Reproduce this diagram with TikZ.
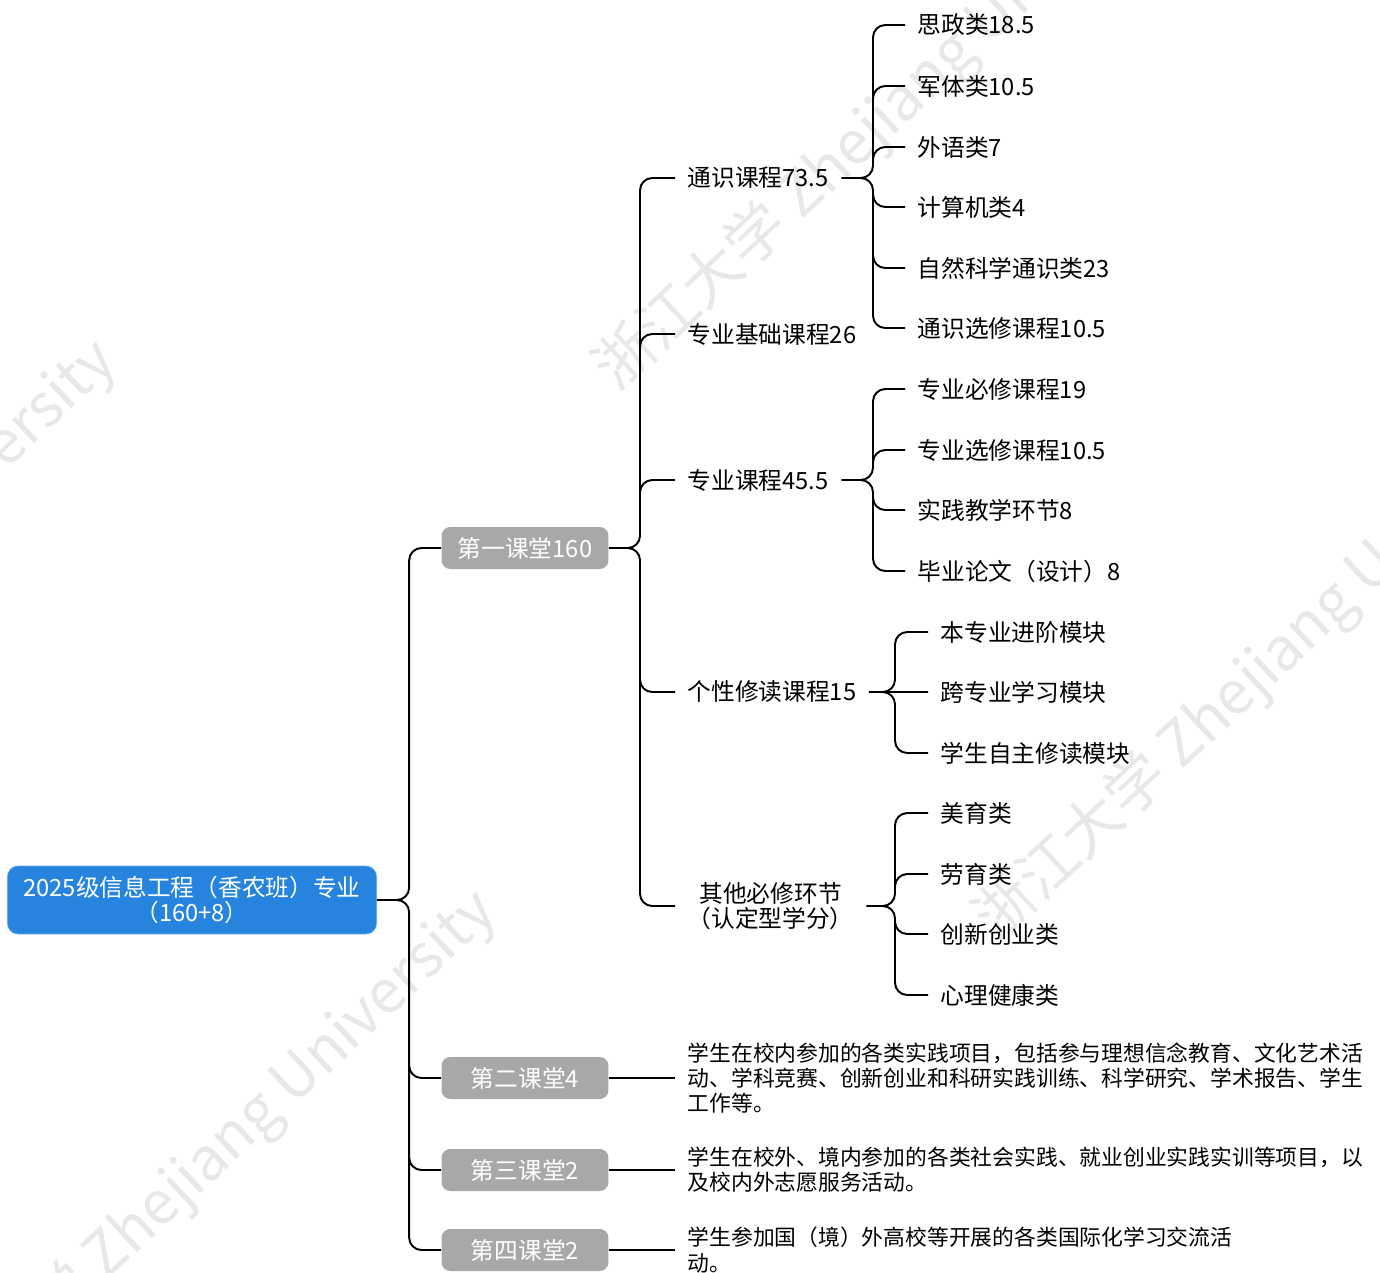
\documentclass[tikz,border=0pt]{standalone}
\usepackage{fontspec}
\setmainfont{Noto Sans CJK SC}
\usepackage{xcolor}
\usepackage{tikz}

\definecolor{rootblue}{RGB}{38,132,222}
\definecolor{boxgray}{RGB}{168,168,168}
\definecolor{markgray}{RGB}{232,232,232}

\begin{document}
\begin{tikzpicture}[x=0.02cm,y=-0.02cm,
	root/.style={draw=rootblue!70!white, fill=rootblue, text=white, rounded corners=6pt,
		minimum width=7.38cm, minimum height=1.36cm, align=center,
		font=\fontsize{13.5}{14.2}\selectfont},
	lvl/.style={fill=boxgray, text=white, rounded corners=5pt,
		minimum width=3.34cm, minimum height=0.84cm,
		font=\fontsize{13.5}{14.2}\selectfont},
	leaf/.style={anchor=west, inner xsep=7pt, font=\fontsize{13.5}{14.2}\selectfont},
	note/.style={anchor=west, inner xsep=7pt, align=left, font=\fontsize{12.4}{14.4}\selectfont},
	link/.style={draw=black, line width=1.1pt, rounded corners=7pt},
	wmark/.style={anchor=west, rotate=43, text=markgray, inner sep=0pt,
		font=\fontsize{34}{34}\selectfont}
	]
	\useasboundingbox (0,0) rectangle (1380,1272);
	%
	\foreach \p [count=\i] in {(985,930),(605,380),(-90,1440),(-470,890)}
		\node[wmark] (wm\i) at \p {浙江大学 Zhejiang University};
	%
	\node[root] (root) at (192,900) {2025级信息工程（香农班）专业\\（160+8）};
	\node[lvl] (k1) at (525,548) {第一课堂160};
	\node[lvl] (k2) at (525,1078) {第二课堂4};
	\node[lvl] (k3) at (525,1170) {第三课堂2};
	\node[lvl] (k4) at (525,1250) {第四课堂2};
	%
	\node[leaf] (tong) at (675,178) {通识课程73.5};
	\node[leaf] (jichu) at (675,334) {专业基础课程26};
	\node[leaf] (zhuan) at (675,480) {专业课程45.5};
	\node[leaf] (gexing) at (675,692) {个性修读课程15};
	\node[leaf, align=center] (qita) at (675,906) {其他必修环节\\（认定型学分）};
	%
	\node[leaf] (t1) at (905,25) {思政类18.5};
	\node[leaf] (t2) at (905,86) {军体类10.5};
	\node[leaf] (t3) at (905,147) {外语类7};
	\node[leaf] (t4) at (905,207) {计算机类4};
	\node[leaf] (t5) at (905,268) {自然科学通识类23};
	\node[leaf] (t6) at (905,328) {通识选修课程10.5};
	%
	\node[leaf] (z1) at (905,389) {专业必修课程19};
	\node[leaf] (z2) at (905,450) {专业选修课程10.5};
	\node[leaf] (z3) at (905,510) {实践教学环节8};
	\node[leaf] (z4) at (905,571) {毕业论文（设计）8};
	%
	\node[leaf] (g1) at (928,632) {本专业进阶模块};
	\node[leaf] (g2) at (928,692) {跨专业学习模块};
	\node[leaf] (g3) at (928,753) {学生自主修读模块};
	%
	\node[leaf] (q1) at (928,813) {美育类};
	\node[leaf] (q2) at (928,874) {劳育类};
	\node[leaf] (q3) at (928,934) {创新创业类};
	\node[leaf] (q4) at (928,995) {心理健康类};
	%
	\node[note] (n2) at (675,1078) {学生在校内参加的各类实践项目，包括参与理想信念教育、文化艺术活\\
		动、学科竞赛、创新创业和科研实践训练、科学研究、学术报告、学生\\工作等。};
	\node[note] (n3) at (675,1170) {学生在校外、境内参加的各类社会实践、就业创业实践实训等项目，以\\
		及校内外志愿服务活动。};
	\node[note] (n4) at (675,1250) {学生参加国（境）外高校等开展的各类国际化学习交流活\\动。};
	%
	\draw[link]
		(k1.west) -- ++(-32,0) |- (root.east)
		(k2.west) -- ++(-32,0) |- (root.east)
		(k3.west) -- ++(-32,0) |- (root.east)
		(k4.west) -- ++(-32,0) |- (root.east);
	\draw[link]
		(tong.west) -- ++(-35,0) |- (k1.east)
		(jichu.west) -- ++(-35,0) |- (k1.east)
		(zhuan.west) -- ++(-35,0) |- (k1.east)
		(gexing.west) -- ++(-35,0) |- (k1.east)
		(qita.west) -- ++(-35,0) |- (k1.east);
	\draw[link]
		(t1.west) -- ++(-32,0) |- (tong.east)
		(t2.west) -- ++(-32,0) |- (tong.east)
		(t3.west) -- ++(-32,0) |- (tong.east)
		(t4.west) -- ++(-32,0) |- (tong.east)
		(t5.west) -- ++(-32,0) |- (tong.east)
		(t6.west) -- ++(-32,0) |- (tong.east);
	\draw[link]
		(z1.west) -- ++(-32,0) |- (zhuan.east)
		(z2.west) -- ++(-32,0) |- (zhuan.east)
		(z3.west) -- ++(-32,0) |- (zhuan.east)
		(z4.west) -- ++(-32,0) |- (zhuan.east);
	\draw[link]
		(g1.west) -- ++(-33,0) |- (gexing.east)
		(g2.west) -- (gexing.east)
		(g3.west) -- ++(-33,0) |- (gexing.east);
	\draw[link]
		(q1.west) -- ++(-33,0) |- (qita.east)
		(q2.west) -- ++(-33,0) |- (qita.east)
		(q3.west) -- ++(-33,0) |- (qita.east)
		(q4.west) -- ++(-33,0) |- (qita.east);
	\draw[link] (n2.west) -- (k2.east);
	\draw[link] (n3.west) -- (k3.east);
	\draw[link] (n4.west) -- (k4.east);
\end{tikzpicture}
\end{document}
